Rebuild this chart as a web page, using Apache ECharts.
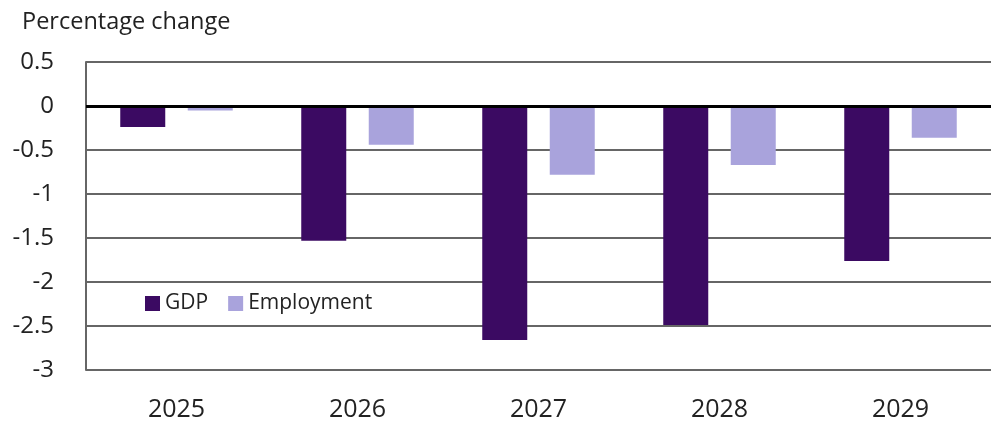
<!DOCTYPE html>
<html>
<head>
<meta charset="utf-8">
<script src="https://cdn.jsdelivr.net/npm/echarts@6/dist/echarts.min.js"></script>
<style>
  html, body { margin: 0; padding: 0; background: #fff; overflow: hidden; }
  #chart { width: 991px; height: 422px; }
</style>
</head>
<body>
<div id="chart"></div>
<script>
const years = ['2025', '2026', '2027', '2028', '2029'];
const gdp = [-0.24, -1.53, -2.66, -2.49, -1.76];
const employment = [-0.05, -0.44, -0.78, -0.67, -0.36];
const yTicks = { min: -3, max: 0.5, interval: 0.5 };

const font = '"Open Sans", sans-serif';
const chart = echarts.init(document.getElementById('chart'));

const option = {
  backgroundColor: '#fff',
  animation: false,
  title: {
    text: 'Percentage change',
    left: 17,
    top: 5,
    textStyle: { fontFamily: font, fontSize: 23.5, fontWeight: 'normal', color: '#222' }
  },
  legend: {
    data: ['GDP', 'Employment'],
    left: 140,
    top: 288,
    itemWidth: 15,
    itemHeight: 15,
    itemGap: 20,
    icon: 'rect',
    textStyle: { fontFamily: font, fontSize: 21, color: '#222' }
  },
  grid: { left: 86, right: -3, top: 62, bottom: 51 },
  xAxis: {
    type: 'category',
    data: years,
    axisLine: { show: false },
    axisTick: { show: false },
    axisLabel: { fontFamily: font, fontSize: 25, color: '#222', margin: 27 }
  },
  yAxis: {
    type: 'value',
    min: yTicks.min,
    max: yTicks.max,
    interval: yTicks.interval,
    axisLine: { show: true, lineStyle: { color: '#666', width: 2 } },
    axisTick: { show: false },
    splitLine: { lineStyle: { color: '#666', width: 2 } },
    axisLabel: {
      fontFamily: font, fontSize: 24, color: '#222', margin: 32,
      formatter: v => String(Math.round(v * 10) / 10)
    }
  },
  series: [
    {
      name: 'GDP',
      type: 'bar',
      data: gdp,
      barWidth: 45,
      barGap: '50%',
      itemStyle: { color: '#3b0a62' },
      markLine: {
        silent: true,
        symbol: 'none',
        label: { show: false },
        lineStyle: { color: '#000', width: 3, type: 'solid' },
        data: [{ yAxis: 0 }]
      }
    },
    {
      name: 'Employment',
      type: 'bar',
      data: employment,
      barWidth: 45,
      barGap: '50%',
      itemStyle: { color: '#a9a3dc' }
    }
  ]
};

chart.setOption(option);
</script>
</body>
</html>
